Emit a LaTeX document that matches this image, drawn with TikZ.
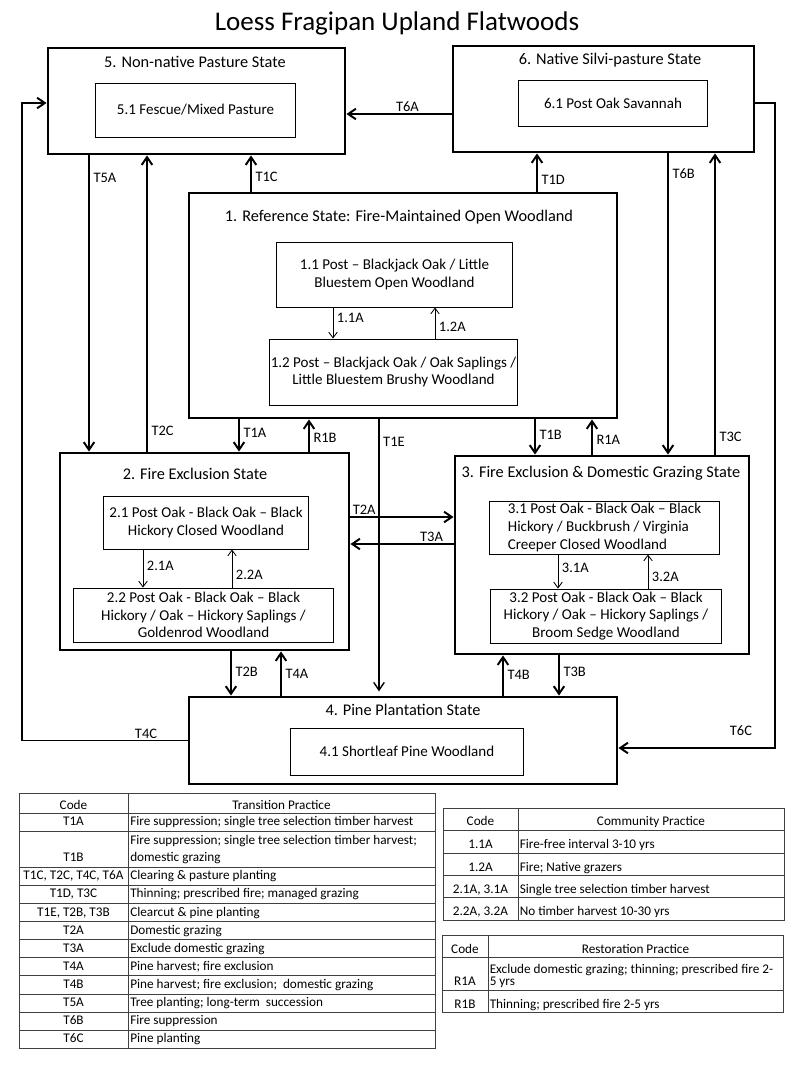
\documentclass[tikz,border=0pt]{standalone}
\usepackage{fontspec}
\setmainfont{Carlito}
\usetikzlibrary{positioning, calc, arrows.meta}
\tikzset{
        state-box/.style={draw, line width=2pt, inner sep=0pt},
        phase-box/.style={draw, line width=0.7pt, inner sep=0pt, align=center, font=\fontsize{10.7}{12.5}\selectfont},
        state-title/.style={font=\fontsize{11.6}{13.5}\selectfont, inner sep=0pt},
        trans-arrow/.style={line width=1.4pt, -{Straight Barb[length=5.5pt, width=7.5pt]}},
        phase-arrow/.style={line width=0.6pt, -{Straight Barb[length=4pt, width=6pt]}},
        arrow-label/.style={font=\fontsize{10.3}{12}\selectfont, inner sep=1pt},
        side-label/.style={arrow-label, anchor=west, xshift=1.5pt},
        cell/.style={font=\fontsize{9.4}{11}\selectfont, inner sep=0pt, text height=6.6pt, text depth=2pt},
        head-cell/.style={cell},
        rule-line/.style={line width=0.6pt, black!75},
}
\begin{document}
\begin{tikzpicture}[x=0.025cm, y=-0.025cm]
        \useasboundingbox (0,0) rectangle (800,1067);
        \fill[white] (0,0) rectangle (800,1067);

        % TITLE
        \node[font=\fontsize{19.2}{23}\selectfont] (title) at (397,23) {Loess Fragipan Upland Flatwoods};

        % STATE BOXES
        \node[state-box, minimum width=7.425cm, minimum height=2.65cm]  (s5) at (196.5,101)  {};
        \node[state-box, minimum width=7.525cm, minimum height=2.65cm]  (s6) at (603.5,99)   {};
        \node[state-box, minimum width=10.7cm,  minimum height=5.625cm] (s1) at (403,305.5)  {};
        \node[state-box, minimum width=7.225cm, minimum height=4.925cm] (s2) at (204.5,551.5) {};
        \node[state-box, minimum width=7.35cm,  minimum height=4.95cm]  (s3) at (602,555)    {};
        \node[state-box, minimum width=10.7cm,  minimum height=2.175cm] (s4) at (403,740.5)  {};

        % STATE TITLES (relative to the top of each box)
        \node[state-title] (t5) at ($(s5.north)+(-1.5,15)$) {5. Non-native Pasture State};
        \node[state-title] (t6) at ($(s6.north)+(6.5,16)$)  {6. Native Silvi-pasture State};
        \node[state-title] (t1) at ($(s1.north)+(-4,26)$)   {1. Reference State: Fire-Maintained Open Woodland};
        \node[state-title] (t2) at ($(s2.north)+(-9.5,22)$) {2. Fire Exclusion State};
        \node[state-title] (t3) at ($(s3.north)+(-1,19)$)   {3. Fire Exclusion \& Domestic Grazing State};
        \node[state-title] (t4) at ($(s4.north)+(0,14)$)    {4. Pine Plantation State};

        % COMMUNITY PHASES (relative to the centre of each box)
        \node[phase-box, minimum width=4.975cm, minimum height=1.35cm]  (p51) at ($(s5)+(-1,9)$)      {5.1 Fescue/Mixed Pasture};
        \node[phase-box, minimum width=4.7cm,   minimum height=1.15cm]  (p61) at ($(s6)+(9.5,4)$)     {6.1 Post Oak Savannah};
        \node[phase-box, minimum width=5.875cm, minimum height=1.625cm] (p11) at ($(s1)+(-8.5,-31)$)  {1.1 Post -- Blackjack Oak / Little\\Bluestem Open Woodland};
        \node[phase-box, minimum width=6.175cm, minimum height=1.65cm]  (p12) at ($(s1)+(-9.5,66.5)$) {1.2 Post -- Blackjack Oak / Oak Saplings /\\Little Bluestem Brushy Woodland};
        \node[phase-box, minimum width=5.1cm,   minimum height=1.325cm] (p21) at ($(s2)+(1.5,-29)$)   {2.1 Post Oak - Black Oak -- Black\\Hickory Closed Woodland};
        \node[phase-box, minimum width=6.475cm, minimum height=1.35cm]  (p22) at ($(s2)+(-1,63.5)$)   {2.2 Post Oak - Black Oak -- Black\\Hickory / Oak -- Hickory Saplings /\\Goldenrod Woodland};
        \node[phase-box, minimum width=5.725cm, minimum height=1.325cm, align=left] (p31) at ($(s3)+(2.5,-27.5)$) {3.1 Post Oak - Black Oak -- Black\\Hickory / Buckbrush / Virginia\\Creeper Closed Woodland};
        \node[phase-box, minimum width=5.75cm,  minimum height=1.35cm]  (p32) at ($(s3)+(4,61)$)      {3.2 Post Oak - Black Oak -- Black\\Hickory / Oak -- Hickory Saplings /\\Broom Sedge Woodland};
        \node[phase-box, minimum width=5.8cm,   minimum height=1.175cm] (p41) at ($(s4)+(4,11)$)     {4.1 Shortleaf Pine Woodland};

        % PHASE PATHWAYS
        \draw[phase-arrow] (p11.south -| 333,0) -- (p12.north -| 333,0) node[side-label, pos=0.34]  {1.1A};
        \draw[phase-arrow] (p12.north -| 435,0) -- (p11.south -| 435,0) node[side-label, pos=0.375] {1.2A};
        \draw[phase-arrow] (p21.south -| 143,0) -- (p22.north -| 143,0) node[side-label, pos=0.44]  {2.1A};
        \draw[phase-arrow] (p22.north -| 232,0) -- (p21.south -| 232,0) node[side-label, pos=0.33]  {2.2A};
        \draw[phase-arrow] (p31.south -| 558,0) -- (p32.north -| 558,0) node[side-label, pos=0.4]   {3.1A};
        \draw[phase-arrow] (p32.north -| 648,0) -- (p31.south -| 648,0) node[side-label, pos=0.34]  {3.2A};

        % TRANSITIONS UP TO STATES 5 AND 6
        \draw[trans-arrow] (s5.south -| 89,0)  -- (s2.north -| 89,0)  node[side-label, pos=0.077] {T5A};
        \draw[trans-arrow] (s2.north -| 147,0) -- (s5.south -| 147,0) node[side-label, pos=0.07]  {T2C};
        \draw[trans-arrow] (s1.north -| 251,0) -- (s5.south -| 251,0) node[side-label, pos=0.41]  {T1C};
        \draw[trans-arrow] (s1.north -| 537,0) -- (s6.south -| 537,0) node[side-label, pos=0.32]  {T1D};
        \draw[trans-arrow] (s6.south -| 668,0) -- (s3.north -| 668,0) node[side-label, pos=0.066] {T6B};
        \draw[trans-arrow] (s3.north -| 715,0) -- (s6.south -| 715,0) node[side-label, pos=0.06]  {T3C};
        \draw[trans-arrow] (s6.west |- 0,114)  -- (s5.east |- 0,114)  node[arrow-label, above, pos=0.42] {T6A};

        % TRANSITIONS BELOW THE REFERENCE STATE
        \draw[trans-arrow] (s1.south -| 239,0) -- (s2.north -| 239,0) node[side-label, pos=0.43] {T1A};
        \draw[trans-arrow] (s2.north -| 309,0) -- (s1.south -| 309,0) node[side-label, pos=0.43] {R1B};
        \draw[trans-arrow, line width=1pt, shorten >=3pt] (s1.south -| 379,0) -- (s4.north -| 379,0) node[side-label, pos=0.08] {T1E};
        \draw[trans-arrow] (s1.south -| 535,0) -- (s3.north -| 535,0) node[side-label, pos=0.45] {T1B};
        \draw[trans-arrow] (s3.north -| 592,0) -- (s1.south -| 592,0) node[side-label, pos=0.42] {R1A};

        % TRANSITIONS BETWEEN STATES 2 AND 3
        \draw[trans-arrow] (s2.east |- 0,517) -- (s3.west |- 0,517) node[arrow-label, above right, pos=0]   {T2A};
        \draw[trans-arrow] (s3.west |- 0,544) -- (s2.east |- 0,544) node[arrow-label, above left, pos=0.08] {T3A};

        % TRANSITIONS TO AND FROM THE PINE PLANTATION
        \draw[trans-arrow] (s2.south -| 231,0) -- (s4.north -| 231,0) node[side-label, pos=0.47] {T2B};
        \draw[trans-arrow] (s4.north -| 281,0) -- (s2.south -| 281,0) node[side-label, pos=0.49] {T4A};
        \draw[trans-arrow] (s4.north -| 503,0) -- (s3.south -| 503,0) node[side-label, pos=0.51] {T4B};
        \draw[trans-arrow] (s3.south -| 559,0) -- (s4.north -| 559,0) node[side-label, pos=0.4]  {T3B};

        % OUTER LOOPS
        \draw[trans-arrow] (s4.west) -- ++(-166,0) node[arrow-label, above, pos=0.25] {T4C} |- ($(s5.west)+(0,2)$);
        \draw[trans-arrow] ($(s6.east)+(0,4)$) -- ++(20,0) |- ($(s4.east)+(0,7.5)$) node[arrow-label, above=7pt, pos=0.61] {T6C};

        % TRANSITION PRACTICE TABLE
        \draw[rule-line] (19,793) rectangle (435,1048.3);
        \draw[rule-line] (128,793) -- (128,1048.3);
        \foreach \y in {813, 831.1, 867.3, 885.4, 903.5, 921.6, 939.7, 957.8, 975.9, 994, 1012.1, 1030.2}
            \draw[rule-line] (19,\y) -- (435,\y);
        \node[head-cell] (tc0) at (73.5,806)  {Code};
        \node[head-cell] (tp0) at (281.5,806) {Transition Practice};
        \node[cell] (tc1) at (73.5,822.5) {T1A};
        \node[cell, anchor=west] (tp1) at (130,822.5) {Fire suppression; single tree selection timber harvest};
        \node[cell] (tc2) at (73.5,858.3) {T1B};
        \node[cell, anchor=west] (tp2a) at (130,841.7) {Fire suppression; single tree selection timber harvest;};
        \node[cell, anchor=west] (tp2b) at (130,858.3) {domestic grazing};
        \foreach \code/\text/\y [count=\i from 3] in {
                {T1C, T2C, T4C, T6A}/{Clearing \& pasture planting}/876.6,
                {T1D, T3C}/{Thinning; prescribed fire; managed grazing}/894.7,
                {T1E, T2B, T3B}/{Clearcut \& pine planting}/912.8,
                T2A/{Domestic grazing}/930.9,
                T3A/{Exclude domestic grazing}/949,
                T4A/{Pine harvest; fire exclusion}/967.1,
                T4B/{Pine harvest; fire exclusion;\ \ domestic grazing}/985.2,
                T5A/{Tree planting; long-term\ \ succession}/1003.3,
                T6B/{Fire suppression}/1021.4,
                T6C/{Pine planting}/1039.5}{
            \node[cell] (tc\i) at (73.5,\y) {\code};
            \node[cell, anchor=west] (tp\i) at (130,\y) {\text};
        }

        % COMMUNITY PRACTICE TABLE
        \draw[rule-line] (443,808) rectangle (784,920);
        \draw[rule-line] (518,808) -- (518,920);
        \foreach \y in {830.5, 853, 875.3, 897.6}
            \draw[rule-line] (443,\y) -- (784,\y);
        \node[head-cell] (cc0) at (480.5,822) {Code};
        \node[head-cell] (cp0) at (651,822)   {Community Practice};
        \foreach \code/\text/\y [count=\i] in {
                1.1A/{Fire-free interval 3-10 yrs}/845.5,
                1.2A/{Fire; Native grazers}/868,
                {2.1A, 3.1A}/{Single tree selection timber harvest}/890.3,
                {2.2A, 3.2A}/{No timber harvest 10-30 yrs}/912.6}{
            \node[cell] (cc\i) at (480.5,\y) {\code};
            \node[cell, anchor=west] (cp\i) at (519.5,\y) {\text};
        }

        % RESTORATION PRACTICE TABLE
        \draw[rule-line] (442,935) rectangle (783,1012.7);
        \draw[rule-line] (488,935) -- (488,1012.7);
        \draw[rule-line] (442,957.7) -- (783,957.7);
        \draw[rule-line] (442,990) -- (783,990);
        \node[head-cell] (rc0) at (465,950)   {Code};
        \node[head-cell] (rp0) at (635.5,950) {Restoration Practice};
        \node[cell] (rc1) at (465,982.7) {R1A};
        \node[cell, anchor=west] (rp1a) at (489.5,970)   {Exclude domestic grazing; thinning; prescribed fire 2-};
        \node[cell, anchor=west] (rp1b) at (489.5,982.7) {5 yrs};
        \node[cell] (rc2) at (465,1005) {R1B};
        \node[cell, anchor=west] (rp2) at (489.5,1005) {Thinning; prescribed fire 2-5 yrs};

\end{tikzpicture}
\end{document}
